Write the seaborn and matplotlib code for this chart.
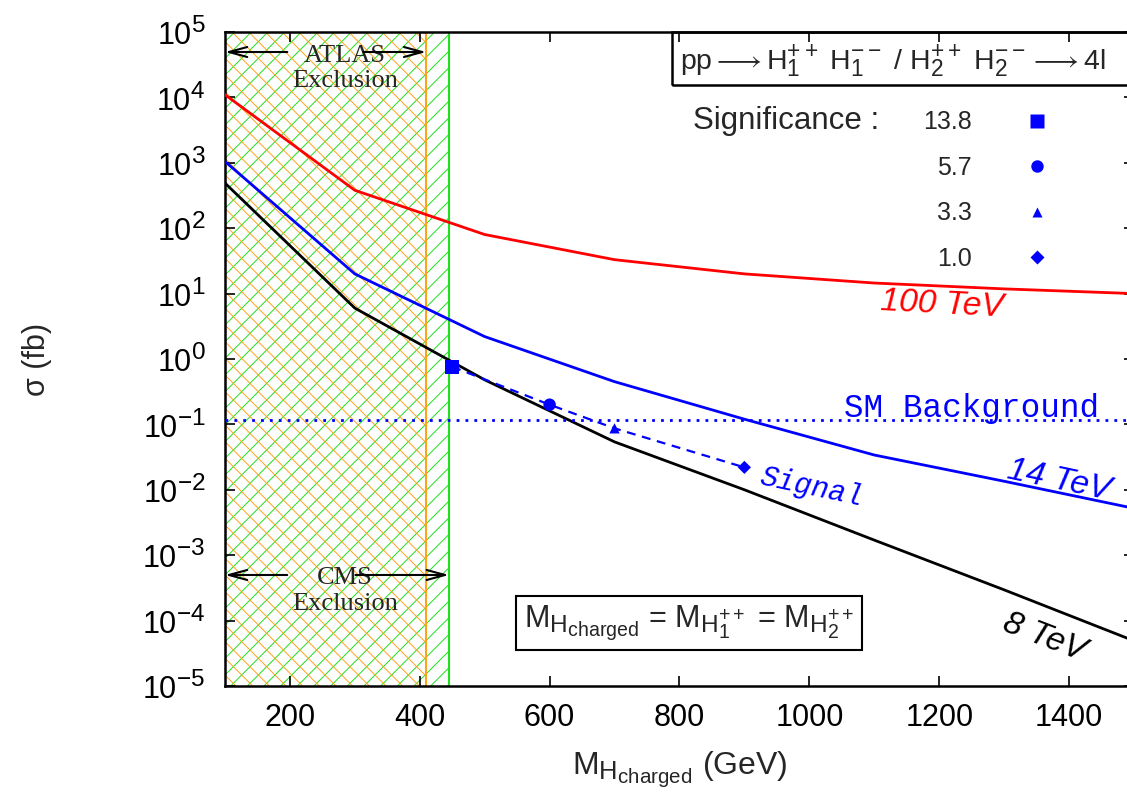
import matplotlib
matplotlib.use("Agg")
import matplotlib.pyplot as plt
import seaborn as sns
import pandas as pd
from matplotlib.patches import Rectangle

try:
    import matplotlib._mathtext as _mt
    _mt.SHRINK_FACTOR = 0.8
except Exception:
    pass

# ---------------- data ----------------
mass = [100, 300, 500, 700, 900, 1100, 1300, 1500]
xsec_100tev = [1.1e4, 380, 80, 33, 20, 14.5, 11.8, 10.0]
xsec_14tev = [1050, 20, 2.2, 0.45, 0.12, 0.034, 0.0135, 0.0052]
xsec_8tev = [490, 6.0, 0.48, 0.054, 0.010, 0.0017, 2.95e-4, 4.9e-5]

signal_mass = [450, 600, 700, 900]
signal_xsec = [0.76, 0.20, 0.087, 0.022]
significance = ["13.8", "5.7", "3.3", "1.0"]

sm_background = 0.118
atlas_limit = 410
cms_limit = 445

x_ticks = [200, 400, 600, 800, 1000, 1200, 1400]
y_exponents = list(range(-5, 6))

# ---------------- style ----------------
sns.set_theme(style="ticks")
plt.rcParams.update({
    "font.family": ["Liberation Sans", "DejaVu Sans"],
    "mathtext.fontset": "custom",
    "mathtext.rm": "Liberation Sans",
    "mathtext.it": "Liberation Sans:italic",
    "mathtext.bf": "Liberation Sans:bold",
    "mathtext.fallback": "stixsans",
    "hatch.linewidth": 0.7,
    "axes.linewidth": 1.8,
    "axes.edgecolor": "black",
})

fig = plt.figure(figsize=(11.27, 7.98), dpi=100)
ax = fig.add_axes([0.1996, 0.1404, 0.8066, 0.8195])

# exclusion regions
ax.axvspan(100, cms_limit, facecolor="none", edgecolor="#1ee01e", hatch="//", lw=0, zorder=0)
ax.axvspan(100, atlas_limit, facecolor="none", edgecolor="#ffa31a", hatch="\\\\", lw=0, zorder=0)
ax.axvline(atlas_limit, color="#ffa31a", lw=1.5, zorder=1)
ax.axvline(cms_limit, color="#1ee01e", lw=1.5, zorder=1)

# cross-section curves
df = pd.DataFrame({
    "mass": mass * 3,
    "xsec": xsec_100tev + xsec_14tev + xsec_8tev,
    "energy": ["100 TeV"] * len(mass) + ["14 TeV"] * len(mass) + ["8 TeV"] * len(mass),
})
sns.lineplot(data=df, x="mass", y="xsec", hue="energy",
             palette={"100 TeV": "#ff0000", "14 TeV": "#0000ff", "8 TeV": "black"},
             lw=2.0, legend=False, ax=ax, sort=False, zorder=3)

# SM background
ax.axhline(sm_background, color="#0000ff", lw=2.0, ls=(0, (1, 2.2)), zorder=3)

# signal
sns.lineplot(x=signal_mass, y=signal_xsec, color="#0000ff", lw=1.6, ls=(0, (4, 3)),
             ax=ax, zorder=4, legend=False)
sns.scatterplot(x=signal_mass, y=signal_xsec, style=significance, size=significance,
                markers={"13.8": "s", "5.7": "o", "3.3": "^", "1.0": "D"},
                sizes={"13.8": 100, "5.7": 80, "3.3": 55, "1.0": 45},
                color="#0000ff", edgecolor="none", ax=ax, zorder=5)

ax.set_yscale("log")
ax.set_xlim(100, 1500)
ax.set_ylim(1e-5, 1e5)
ax.set_xticks(x_ticks)
ax.set_yticks([10.0 ** e for e in y_exponents])
ax.minorticks_off()
ax.tick_params(direction="in", length=7, width=1.2, top=True, right=True,
               labelsize=22, colors="black")
ax.tick_params(axis="x", pad=12)
ax.tick_params(axis="y", pad=14)

ax.set_xlabel(r"M$_{\mathrm{H}_{\mathrm{charged}}}$ (GeV)", fontsize=23)
ax.set_ylabel("σ (fb)", fontsize=22)
ax.xaxis.set_label_coords(0.5, -0.097)
ax.yaxis.set_label_coords(-0.19, 0.5)

# legend (significance)
sns.move_legend(ax, "upper right", bbox_to_anchor=(0.9071, 0.880), frameon=False,
                markerfirst=False, title=None, fontsize=18, labelspacing=0.86,
                handletextpad=2.1, handlelength=1.0, borderpad=0, borderaxespad=0)
ax.text(0.515, 0.864, "Significance :", transform=ax.transAxes, fontsize=22.5,
        ha="left", va="center")

# process box
ax.add_patch(Rectangle((0.492, 0.919), 0.6, 0.081, transform=ax.transAxes,
                       fill=False, lw=1.8, ec="black", clip_on=False, zorder=6))
ax.text(0.5005, 0.956,
        r"pp$\longrightarrow$H$_1^{++}$ H$_1^{--}$ / H$_2^{++}$ H$_2^{--}$$\longrightarrow$4l",
        transform=ax.transAxes, fontsize=20.5, ha="left", va="center")

# mass box
ax.text(0.5105, 0.097,
        r"M$_{\mathrm{H}_{\mathrm{charged}}}$ = M$_{\mathrm{H}_1^{++}}$ = M$_{\mathrm{H}_2^{++}}$",
        transform=ax.transAxes, fontsize=22, ha="center", va="center",
        bbox=dict(boxstyle="square,pad=0.25", fc="white", ec="black", lw=1.5))

# curve labels
ax.text(1204, 6.7, "100 TeV", color="#ff0000", fontsize=24, style="italic",
        ha="center", va="center", rotation=-3)
ax.text(1385, 0.014, "14 TeV", color="#0000ff", fontsize=24, style="italic",
        ha="center", va="center", rotation=-12)
ax.text(1362, 5.6e-5, "8 TeV", color="black", fontsize=24, style="italic",
        ha="center", va="center", rotation=-21)
ax.text(1054, 0.175, "SM Background", color="#0000ff", fontsize=23.5,
        family="Liberation Mono", ha="left", va="center")
ax.text(1003, 0.011, "Signal", color="#0000ff", fontsize=21, style="italic",
        family="Liberation Mono", ha="center", va="center", rotation=-12)

# exclusion annotations
arrow = dict(arrowstyle="->,head_length=1.1,head_width=0.3", lw=1.5, color="black",
             shrinkA=0, shrinkB=0)
tf = ("data", "axes fraction")
ax.text(285, 0.944, "ATLAS\nExclusion", fontsize=19, family="Liberation Serif",
        ha="center", va="center", linespacing=1.2, transform=ax.get_xaxis_transform())
ax.annotate("", xy=(100, 0.9694), xytext=(196, 0.9694), xycoords=tf, textcoords=tf, arrowprops=arrow)
ax.annotate("", xy=(atlas_limit, 0.9694), xytext=(313, 0.9694), xycoords=tf, textcoords=tf, arrowprops=arrow)
ax.text(285, 0.145, "CMS\nExclusion", fontsize=19, family="Liberation Serif",
        ha="center", va="center", linespacing=1.2, transform=ax.get_xaxis_transform())
ax.annotate("", xy=(100, 0.1697), xytext=(196, 0.1697), xycoords=tf, textcoords=tf, arrowprops=arrow)
ax.annotate("", xy=(cms_limit, 0.1697), xytext=(301, 0.1697), xycoords=tf, textcoords=tf, arrowprops=arrow)

fig.savefig("out.png", dpi=100)
